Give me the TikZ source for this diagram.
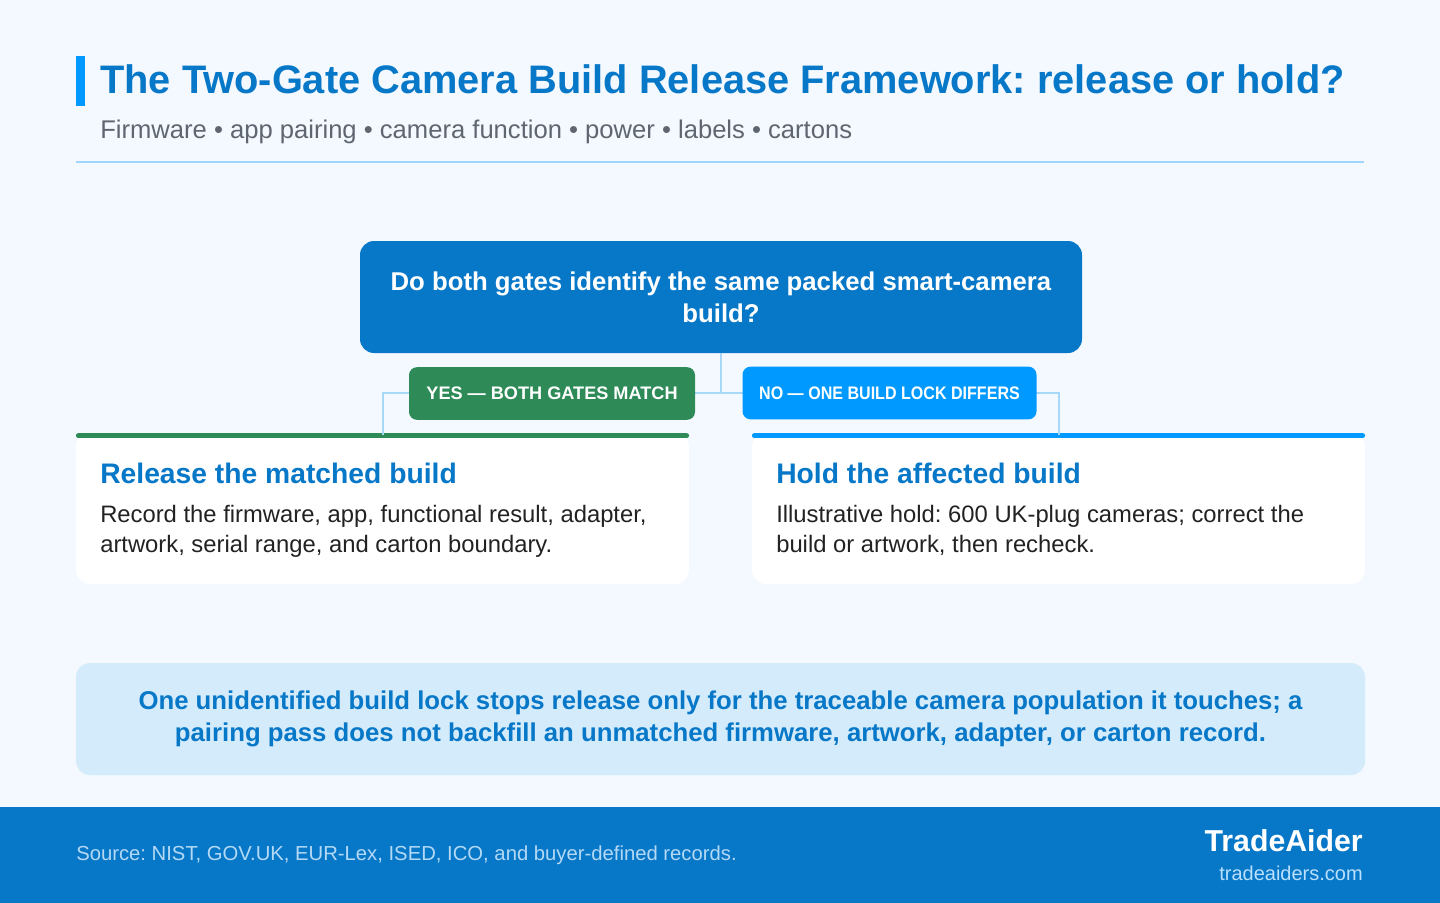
\documentclass[tikz,border=0pt]{standalone}
\usepackage{fontspec}
\setmainfont{Liberation Sans}
\frenchspacing
\definecolor{bg}{HTML}{F4F9FF}
\definecolor{tblue}{HTML}{0777C8}
\definecolor{accent}{HTML}{0099FF}
\definecolor{subgray}{HTML}{5F6670}
\definecolor{sepline}{HTML}{A0D6FA}
\definecolor{conncol}{HTML}{A7D8F8}
\definecolor{okgreen}{HTML}{2E8B57}
\definecolor{bodytext}{HTML}{222222}
\definecolor{notefill}{HTML}{D4EBFB}
\definecolor{srccol}{HTML}{B3D9F5}
\definecolor{domcol}{HTML}{B9E0FF}
\tikzset{
  conn/.style={draw=conncol, line width=1.5pt},
  qbox/.style={fill=tblue, rounded corners=10.5pt, minimum width=541.5pt, minimum height=84pt, text=white, align=center, font=\fontsize{19.3pt}{24pt}\selectfont\bfseries, inner sep=0pt},
  tag/.style={rounded corners=6pt, minimum height=39.5pt, text=white, font=\fontsize{13.6pt}{16pt}\selectfont\bfseries, inner sep=0pt},
  card/.style={fill=white, rounded corners=10.5pt, minimum width=459.75pt, minimum height=113.25pt, inner sep=0pt},
  cardtitle/.style={anchor=base west, inner sep=0pt, text=tblue, font=\fontsize{21.2pt}{25pt}\selectfont\bfseries},
  cardbody/.style={anchor=base west, inner sep=0pt, text=bodytext, align=left, font=\fontsize{17.85pt}{22.5pt}\selectfont},
  notebox/.style={fill=notefill, rounded corners=10.5pt, minimum width=966.75pt, minimum height=84pt, text=tblue, align=center, font=\fontsize{19.3pt}{24pt}\selectfont\bfseries, inner sep=0pt},
}
\begin{document}
\begin{tikzpicture}[x=0.75pt,y=-0.75pt]
\fill[bg] (0,0) rectangle (1440,903);
\useasboundingbox (0,0) rectangle (1440,903);
% header
\fill[accent] (76,56) rectangle (85,106);
\node[anchor=base west, inner sep=0pt, text=tblue, font=\fontsize{29.85pt}{36pt}\selectfont\bfseries] (title) at (100,93) {The Two-Gate Camera Build Release Framework: release or hold?};
\node[anchor=base west, inner sep=0pt, text=subgray, font=\fontsize{19.2pt}{24pt}\selectfont] (sub) at (100,138) {Firmware • app pairing • camera function • power • labels • cartons};
\draw[draw=sepline, line width=1.5pt] (76,162) -- (1364,162);
% question
\node[qbox] (q) at (721,297) {Do both gates identify the same packed smart-camera\\build?};
% cards
\node[card] (cl) at (382.5,508.5) {};
\node[card] (cr) at (1058.5,508.5) {};
\draw[okgreen, line width=3.75pt, line cap=round] ([xshift=2pt,yshift=-2.25pt]cl.north west) -- ([xshift=-2pt,yshift=-2.25pt]cl.north east);
\draw[accent, line width=3.75pt, line cap=round] ([xshift=2pt,yshift=-2.25pt]cr.north west) -- ([xshift=-2pt,yshift=-2.25pt]cr.north east);
% connectors
\coordinate (j) at (721,393);
\draw[conn] (q.south) -- (j) -| ([yshift=-1.5pt]cl.north);
\draw[conn] (j) -| ([yshift=-1.5pt]cr.north);
% tags
\node[tag, fill=okgreen, minimum width=214.5pt] (yes) at (552,393.5) {YES — BOTH GATES MATCH};
\node[tag, fill=accent, minimum width=220.5pt] (no) at (889.5,393) {\scalebox{0.886}[1]{NO — ONE BUILD LOCK DIFFERS}};
% card texts
\node[cardtitle] (clt) at (100,483) {Release the matched build};
\node[cardbody] (clb) at (100,552.5) {Record the firmware, app, functional result, adapter,\\artwork, serial range, and carton boundary.};
\node[cardtitle] (crt) at (776,483) {Hold the affected build};
\node[cardbody] (crb) at (776,552.5) {Illustrative hold: 600 UK-plug cameras; correct the\\build or artwork, then recheck.};
% note
\node[notebox] (note) at (720.5,719) {One unidentified build lock stops release only for the traceable camera population it touches; a\\pairing pass does not backfill an unmatched firmware, artwork, adapter, or carton record.};
% footer
\fill[tblue] (0,807) rectangle (1440,903);
\node[anchor=base west, inner sep=0pt, text=srccol, font=\fontsize{15.2pt}{18pt}\selectfont] (src) at (76,860) {Source: NIST, GOV.UK, EUR-Lex, ISED, ICO, and buyer-defined records.};
\node[anchor=base east, inner sep=0pt, text=white, font=\fontsize{22.7pt}{27pt}\selectfont\bfseries] (brand) at (1363,851) {TradeAider};
\node[anchor=base east, inner sep=0pt, text=domcol, font=\fontsize{15pt}{18pt}\selectfont] (dom) at (1363,880) {tradeaiders.com};
\end{tikzpicture}
\end{document}
